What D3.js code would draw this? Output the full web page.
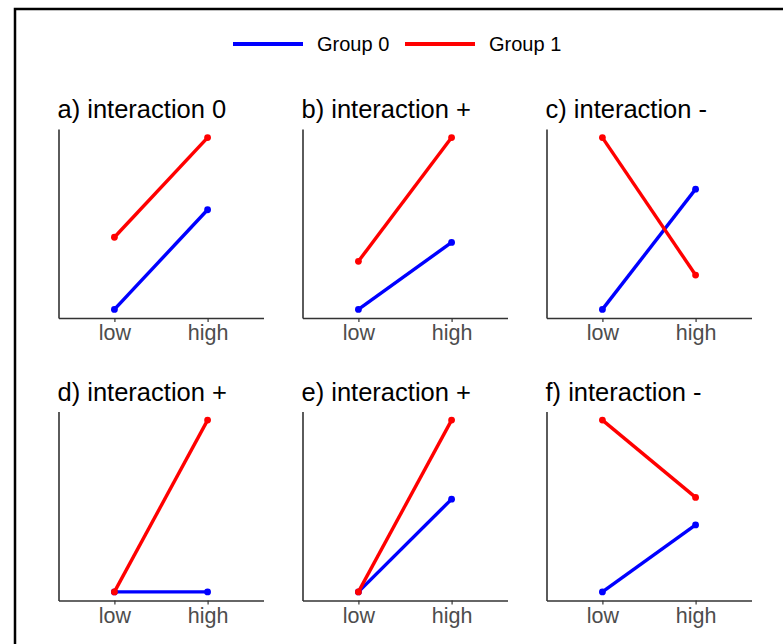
<!DOCTYPE html>
<html>
<head>
<meta charset="utf-8">
<script src="https://cdn.jsdelivr.net/npm/d3@7"></script>
<style>
  body { margin: 0; background: #fff; }
  text { font-family: "Liberation Sans", Arial, sans-serif; }
</style>
</head>
<body>
<div id="plot"></div>
<script>
var width = 783, height = 644;

var groups = ["Group 0", "Group 1"];
var colors = ["#0000ff", "#ff0000"];
var levels = ["low", "high"];
var titles = ["a) interaction 0", "b) interaction +", "c) interaction -",
              "d) interaction +", "e) interaction +", "f) interaction -"];

// y values at [low, high] for each panel
var group0 = [[0, 5.8], [0, 3.9], [0, 7], [0, 0], [0, 5.4], [0, 3.9]];
var group1 = [[4.2, 10], [2.8, 10], [10, 2], [0, 10], [0, 10], [10, 5.5]];

var colX = [58.5, 302.5, 546.5]
  , rowTop = [129, 411.5]
  , panelW = 205
  , panelH = 189;

var svg = d3.select("#plot")
  .append("svg")
    .attr("width", width)
    .attr("height", height);

// frame (top and left edges only, as cropped)
svg.append("path")
  .attr("d", "M15,644 V9 H783")
  .attr("fill", "none")
  .attr("stroke", "#000")
  .attr("stroke-width", 2.5);

// legend
var legend = svg.append("g").attr("transform", "translate(233,44)");
var legX = [0, 172];
groups.forEach(function(g, i) {
  var lg = legend.append("g").attr("transform", "translate(" + legX[i] + ",0)");
  lg.append("line")
    .attr("x1", 0).attr("x2", 70)
    .attr("stroke", colors[i]).attr("stroke-width", 4);
  lg.append("text")
    .attr("x", 84).attr("y", 7)
    .attr("font-size", 20)
    .attr("fill", "#000")
    .text(g);
});

var x = d3.scalePoint()
  .domain(levels)
  .range([0, panelW])
  .padding(0.6);   // ggplot discrete expansion, 0.6 on each side

var y = d3.scaleLinear()
  .domain([-0.5, 10.5])
  .range([panelH, 0]);

var line = d3.line()
  .x(function(d, i) { return x(levels[i]); })
  .y(function(d) { return y(d); });

titles.forEach(function(t, p) {
  var g = svg.append("g")
    .attr("transform", "translate(" + colX[p % 3] + "," + rowTop[Math.floor(p / 3)] + ")");

  g.append("text")
    .attr("x", -1).attr("y", -11)
    .attr("font-size", 25.5)
    .attr("fill", "#000")
    .text(t);

  var xa = g.append("g")
    .attr("transform", "translate(0," + panelH + ")")
    .call(d3.axisBottom(x).tickSize(4).tickSizeOuter(0).tickPadding(3));
  xa.select(".domain").attr("stroke", "#333").attr("stroke-width", 1.6);
  xa.selectAll(".tick line").attr("stroke", "#333").attr("stroke-width", 1.2);
  xa.selectAll(".tick text")
    .attr("font-size", 21.5)
    .attr("font-family", "Liberation Sans, Arial, sans-serif")
    .attr("fill", "#4d4d4d");

  var ya = g.append("g").call(d3.axisLeft(y).tickValues([]).tickSizeOuter(0));
  ya.select(".domain").attr("stroke", "#333").attr("stroke-width", 1.6);

  [group0[p], group1[p]].forEach(function(vals, gi) {
    g.append("path")
      .datum(vals)
      .attr("fill", "none")
      .attr("stroke", colors[gi])
      .attr("stroke-width", 3.4)
      .attr("d", line);
    g.selectAll(".dot" + gi)
      .data(vals)
      .enter()
      .append("circle")
      .attr("cx", function(d, i) { return x(levels[i]); })
      .attr("cy", function(d) { return y(d); })
      .attr("r", 3.4)
      .attr("fill", colors[gi]);
  });
});
</script>
</body>
</html>
